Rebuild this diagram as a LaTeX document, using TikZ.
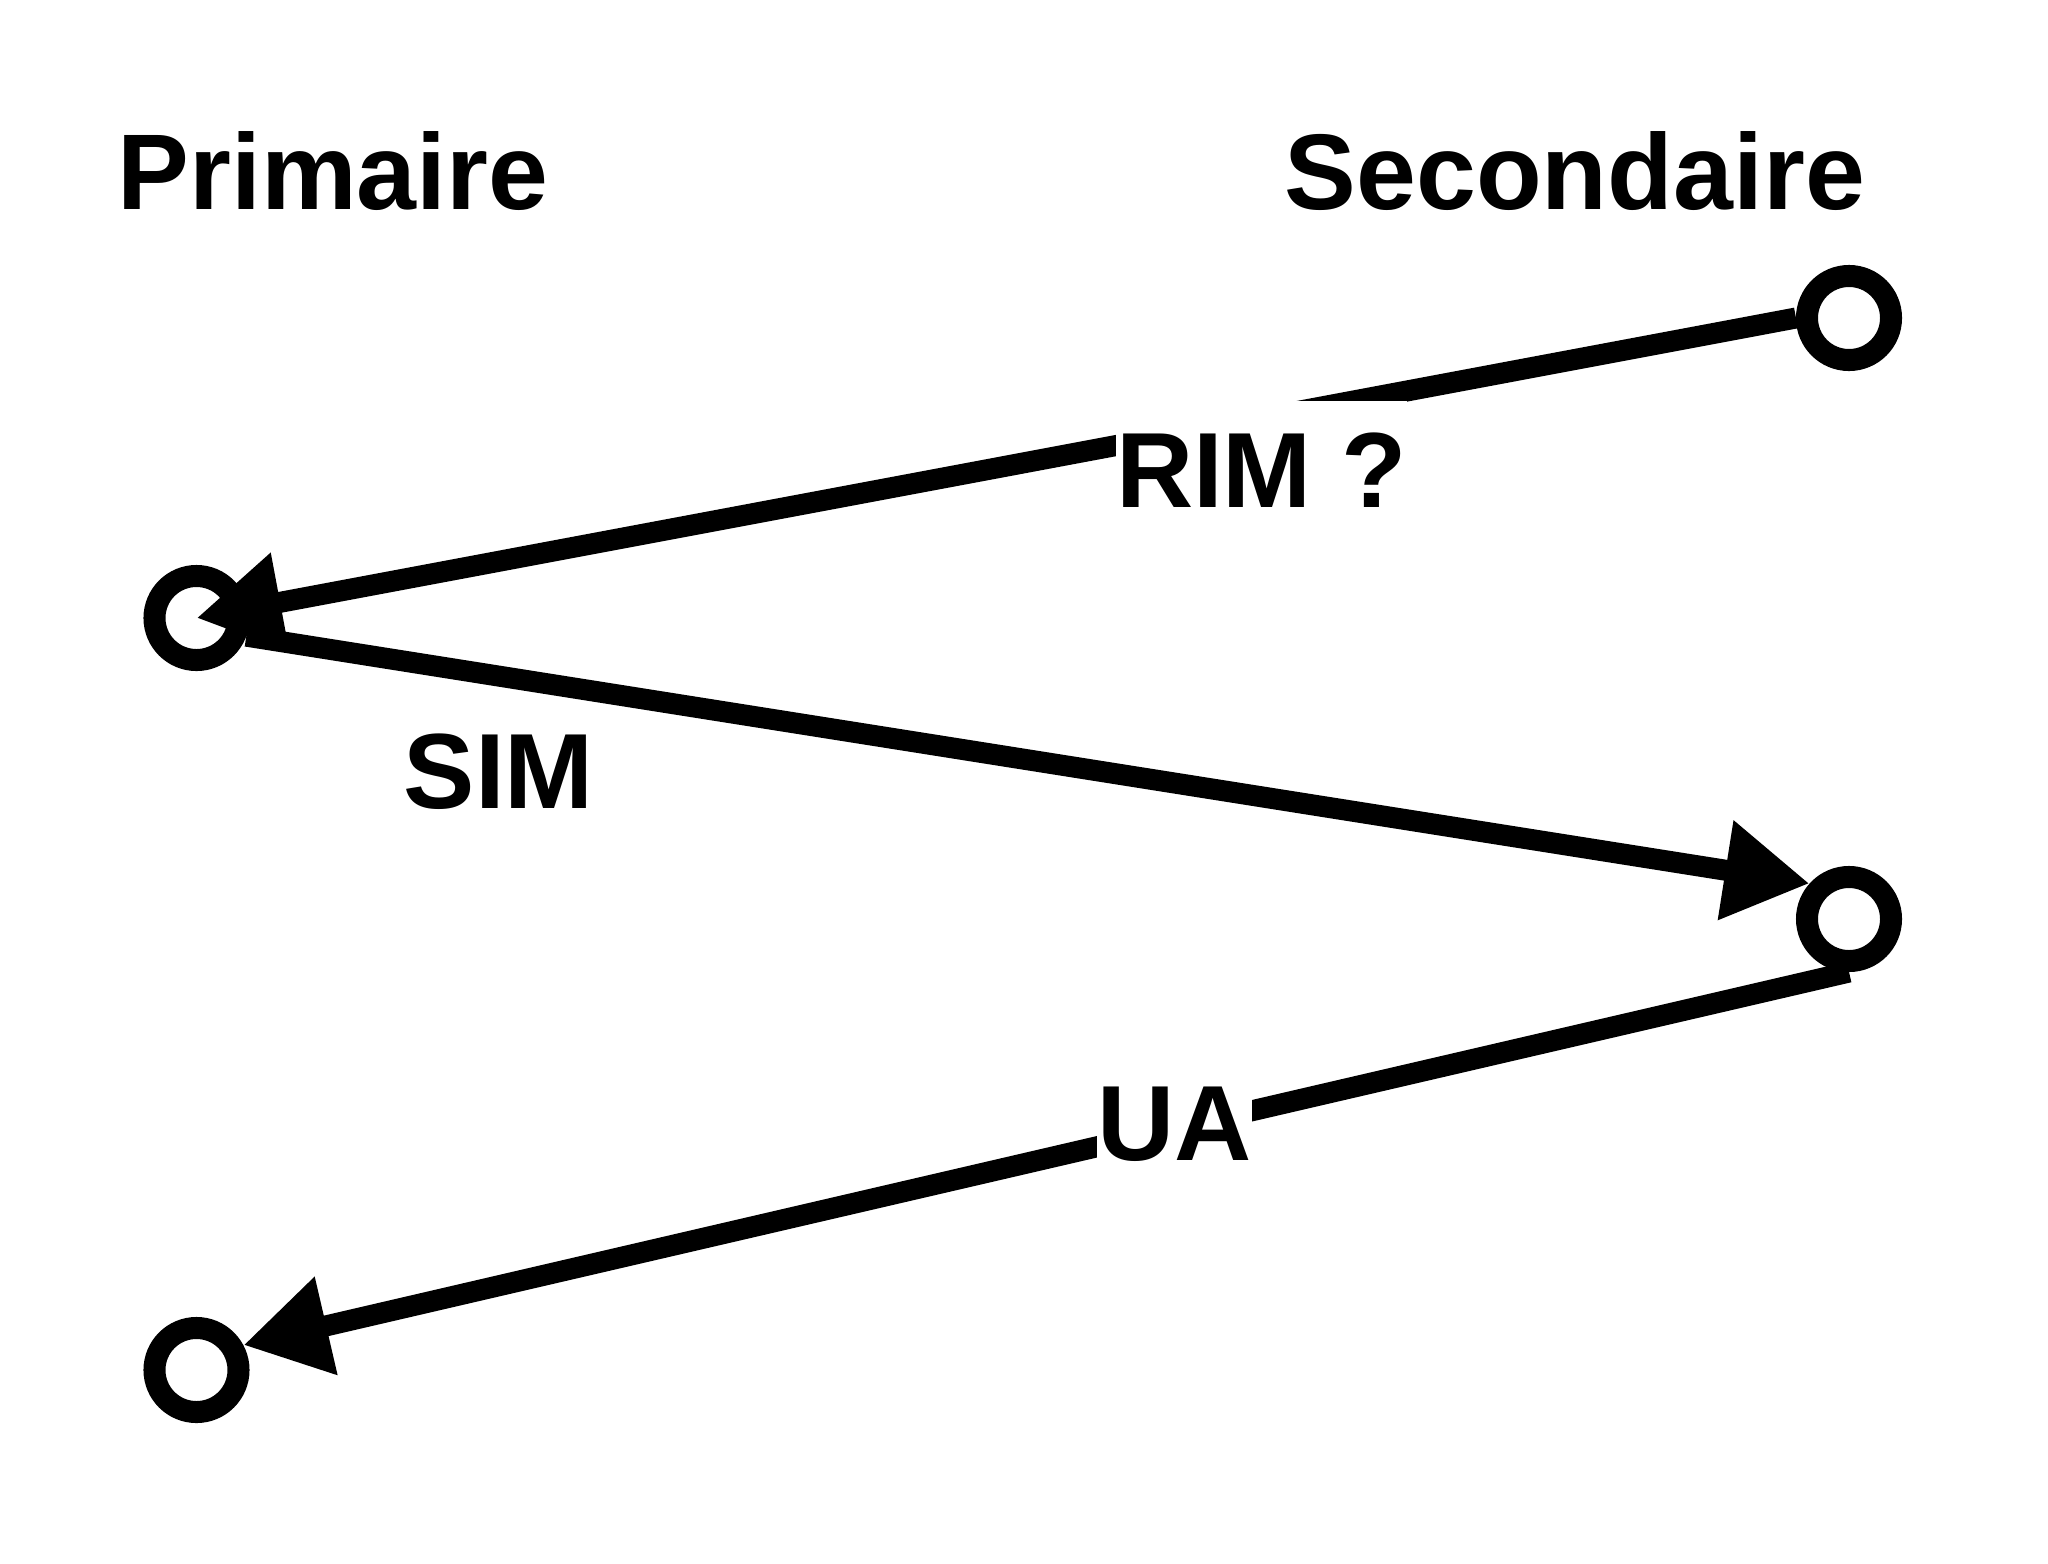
\documentclass[tikz,border=0pt]{standalone}
\usepackage{fontspec}
\setmainfont{Liberation Sans}
\usetikzlibrary{arrows.meta}

\begin{document}
\begin{tikzpicture}[x=0.01cm,y=-0.01cm]
	\tikzstyle{every node}+=[inner sep=0pt]
	\tikzstyle{station}=[draw=black, circle, line width=6.26pt, minimum size=0.84cm]
	\tikzstyle{frame}=[black, line width=5.97pt, -{Triangle[length=0.85cm,width=0.95cm]}]
	\tikzstyle{side}=[anchor=base west, font=\fontsize{30.6pt}{36pt}\selectfont\bfseries]
	\tikzstyle{cmd}=[anchor=base, fill=white, text height=1.06cm, text depth=0.26cm, font=\fontsize{30.4pt}{36pt}\selectfont\bfseries]
	\useasboundingbox (0,0) rectangle (2048,1563);
	\node [side] (prim) at (117,209) {Primaire};
	\node [side] (sec) at (1284,209) {Secondaire};
	\node [station] (s1) at (1849,318) {};
	\node [station] (p1) at (196.5,618) {};
	\node [station] (s2) at (1849,919) {};
	\node [station] (p2) at (196.5,1370) {};
	\draw [frame] (s1.west) -- (p1.center);
	\draw [frame] (p1.-20) -- (s2.138);
	\draw [frame] (s2.south) -- (p2.28);
	\node [cmd] (rim) at (1261.5,507) {RIM ?};
	\node [cmd] (sim) at (499,808) {SIM};
	\node [cmd] (ua) at (1174.5,1160) {UA};
\end{tikzpicture}
\end{document}
